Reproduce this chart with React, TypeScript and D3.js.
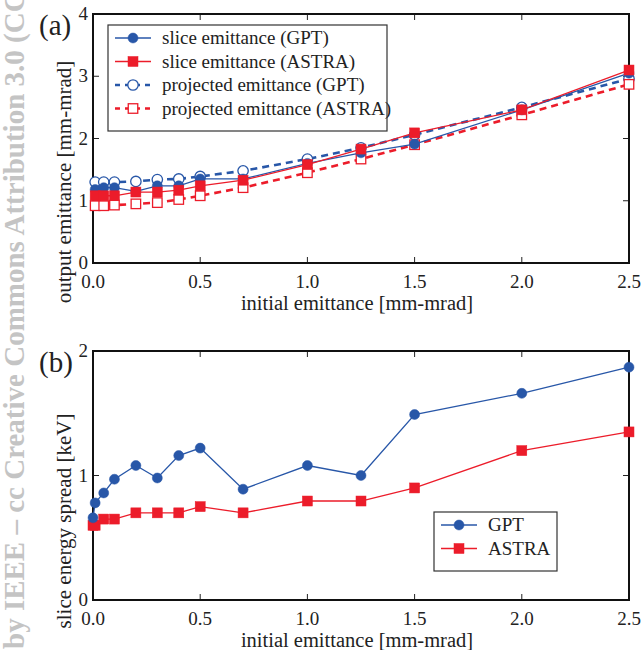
import {useEffect, useRef} from "react";
import * as d3 from "d3";

// panel (a)
const xA = [0.01, 0.05, 0.1, 0.2, 0.3, 0.4, 0.5, 0.7, 1.0, 1.25, 1.5, 2.0, 2.5];
const sliceGPT = [1.18, 1.21, 1.21, 1.15, 1.24, 1.24, 1.35, 1.35, 1.6, 1.77, 1.91, 2.46, 3.05];
const sliceASTRA = [1.08, 1.08, 1.08, 1.14, 1.14, 1.17, 1.24, 1.33, 1.58, 1.83, 2.09, 2.46, 3.1];
const projGPT = [1.3, 1.3, 1.3, 1.31, 1.34, 1.35, 1.39, 1.48, 1.67, 1.85, 2.06, 2.5, 2.96];
const projASTRA = [0.92, 0.92, 0.93, 0.95, 0.97, 1.02, 1.08, 1.21, 1.45, 1.67, 1.9, 2.38, 2.87];

// panel (b)
const xB = [0, 0.01, 0.05, 0.1, 0.2, 0.3, 0.4, 0.5, 0.7, 1.0, 1.25, 1.5, 2.0, 2.5];
const spreadGPT = [0.66, 0.78, 0.86, 0.97, 1.08, 0.98, 1.16, 1.22, 0.89, 1.08, 1.0, 1.49, 1.66, 1.87];
const spreadASTRA = [0.6, 0.6, 0.65, 0.65, 0.7, 0.7, 0.7, 0.75, 0.7, 0.795, 0.795, 0.9, 1.2, 1.35];

const xTicks = [0, 0.5, 1.0, 1.5, 2.0, 2.5];
const yTicksA = [0, 1, 2, 3, 4];
const yTicksB = [0, 1, 2];

const BLUE = "#2857a8";
const RED = "#ec1c2a";
const FONT = "Liberation Serif, Times New Roman, serif";

export default function App() {
    const ref = useRef<SVGSVGElement>(null);

    useEffect(() => {
        const svg = d3.select(ref.current);
        svg.selectAll("*").remove();

        // watermark (cut off at the top like the original)
        svg.append("text")
            .attr("transform", "translate(24,649) rotate(-90)")
            .attr("font-family", FONT)
            .attr("font-weight", "bold")
            .attr("font-size", 29)
            .attr("fill", "#c4c4c4")
            .text("by IEEE \u2013 cc Creative Commons Attribution 3.0 (CC BY 3.0)");

        const left = 93, right = 629;

        const panel = (top: number, bottom: number, yMax: number, yTicks: number[], label: string, yTitle: string, titleY: number) => {
            const x = d3.scaleLinear().domain([0, 2.5]).range([left, right]);
            const y = d3.scaleLinear().domain([0, yMax]).range([bottom, top]);
            const g = svg.append("g");

            // ticks, inward on all sides
            xTicks.forEach(t => {
                g.append("line").attr("x1", x(t)).attr("x2", x(t)).attr("y1", bottom).attr("y2", bottom - 6).attr("stroke", "#222").attr("stroke-width", 1);
                g.append("line").attr("x1", x(t)).attr("x2", x(t)).attr("y1", top).attr("y2", top + 6).attr("stroke", "#222").attr("stroke-width", 1);
                g.append("text").attr("x", x(t)).attr("y", bottom + 25).attr("text-anchor", "middle")
                    .attr("font-family", FONT).attr("font-size", 19).attr("fill", "#222").text(d3.format(".1f")(t));
            });
            yTicks.forEach(t => {
                g.append("line").attr("x1", left).attr("x2", left + 6).attr("y1", y(t)).attr("y2", y(t)).attr("stroke", "#222").attr("stroke-width", 1);
                g.append("line").attr("x1", right).attr("x2", right - 6).attr("y1", y(t)).attr("y2", y(t)).attr("stroke", "#222").attr("stroke-width", 1);
                g.append("text").attr("x", left - 5).attr("y", y(t) + 6).attr("text-anchor", "end")
                    .attr("font-family", FONT).attr("font-size", 19).attr("fill", "#222").text(t);
            });

            g.append("rect").attr("x", left).attr("y", top).attr("width", right - left).attr("height", bottom - top)
                .attr("fill", "none").attr("stroke", "#111").attr("stroke-width", 2);

            g.append("text").attr("x", 357).attr("y", bottom + 47).attr("text-anchor", "middle")
                .attr("font-family", FONT).attr("font-size", 20.5).attr("fill", "#222").text("initial emittance [mm-mrad]");
            g.append("text").attr("transform", `translate(71,${titleY}) rotate(-90)`).attr("text-anchor", "middle")
                .attr("font-family", FONT).attr("font-size", 21).attr("fill", "#222").text(yTitle);
            g.append("text").attr("x", 39).attr("y", top + 21).attr("font-family", FONT).attr("font-size", 29)
                .attr("fill", "#222").text(label);
            return {x, y, g};
        };

        const marker = (g: any, cx: number, cy: number, color: string, shape: string, filled: boolean) => {
            if (shape === "circle") {
                g.append("circle").attr("cx", cx).attr("cy", cy).attr("r", filled ? 5 : 5.2)
                    .attr("fill", filled ? color : "white").attr("stroke", color).attr("stroke-width", filled ? 0.5 : 1.3);
            } else {
                const s = filled ? 10 : 9.5;
                g.append("rect").attr("x", cx - s / 2).attr("y", cy - s / 2).attr("width", s).attr("height", s)
                    .attr("fill", filled ? color : "white").attr("stroke", color).attr("stroke-width", filled ? 0.5 : 1.3);
            }
        };

        const series = (g: any, x: any, y: any, xs: number[], ys: number[], color: string, dashed: boolean, shape: string, filled: boolean) => {
            const pts = xs.map((d, i) => [d, ys[i]] as [number, number]);
            g.append("path").datum(pts)
                .attr("fill", "none").attr("stroke", color)
                .attr("stroke-width", dashed ? 2.6 : 1.3)
                .attr("stroke-dasharray", dashed ? "7,5" : null)
                .attr("d", d3.line().x(d => x(d[0])).y(d => y(d[1])));
            pts.forEach(d => marker(g, x(d[0]), y(d[1]), color, shape, filled));
        };

        const legend = (g: any, x0: number, y0: number, w: number, rows: any[]) => {
            const h = rows.length * 23.5 + 12;
            g.append("rect").attr("x", x0).attr("y", y0).attr("width", w).attr("height", h)
                .attr("fill", "white").attr("stroke", "#333").attr("stroke-width", 1.2);
            rows.forEach((r, i) => {
                const cy = y0 + 13 + i * 23.5;
                g.append("line").attr("x1", x0 + 7).attr("x2", x0 + 43).attr("y1", cy).attr("y2", cy)
                    .attr("stroke", r.color).attr("stroke-width", r.dashed ? 2.6 : 1.3)
                    .attr("stroke-dasharray", r.dashed ? "5,5" : null);
                marker(g, x0 + 25, cy, r.color, r.shape, r.filled);
                g.append("text").attr("x", x0 + 54).attr("y", cy + 6).attr("font-family", FONT).attr("font-size", 19)
                    .attr("fill", "#222").text(r.name);
            });
        };

        // (a)
        const a = panel(14, 263, 4, yTicksA, "(a)", "output emittance [mm-mrad]", 182);
        series(a.g, a.x, a.y, xA, projGPT, BLUE, true, "circle", false);
        series(a.g, a.x, a.y, xA, projASTRA, RED, true, "square", false);
        series(a.g, a.x, a.y, xA, sliceGPT, BLUE, false, "circle", true);
        series(a.g, a.x, a.y, xA, sliceASTRA, RED, false, "square", true);
        legend(a.g, 108, 25, 279, [
            {name: "slice emittance (GPT)", color: BLUE, dashed: false, shape: "circle", filled: true},
            {name: "slice emittance (ASTRA)", color: RED, dashed: false, shape: "square", filled: true},
            {name: "projected emittance (GPT)", color: BLUE, dashed: true, shape: "circle", filled: false},
            {name: "projected emittance (ASTRA)", color: RED, dashed: true, shape: "square", filled: false},
        ]);

        // (b)
        const b = panel(351, 600, 2, yTicksB, "(b)", "slice energy spread [keV]", 521);
        series(b.g, b.x, b.y, xB, spreadASTRA, RED, false, "square", true);
        series(b.g, b.x, b.y, xB, spreadGPT, BLUE, false, "circle", true);
        legend(b.g, 434, 512, 123, [
            {name: "GPT", color: BLUE, dashed: false, shape: "circle", filled: true},
            {name: "ASTRA", color: RED, dashed: false, shape: "square", filled: true},
        ]);
    }, []);

    return <svg ref={ref} width={641} height={650} style={{display: "block", position: "absolute", left: 0, top: 0}}></svg>
}
